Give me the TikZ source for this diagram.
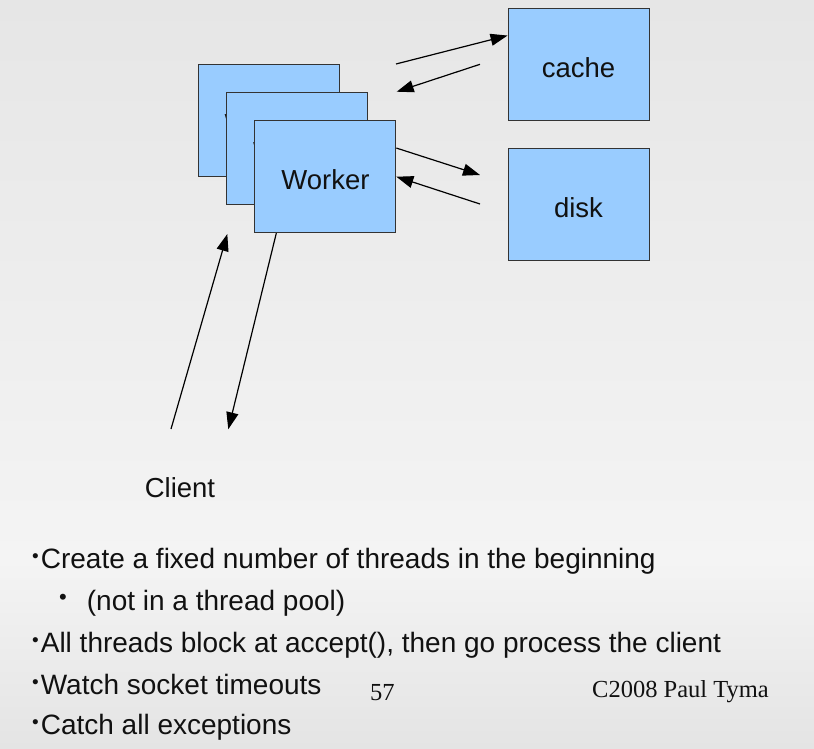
\documentclass[tikz,border=0pt]{standalone}
\usepackage{fontspec}
\setmainfont{Liberation Sans}
\newfontfamily\serifnote{Liberation Serif}
\usetikzlibrary{arrows.meta}
\definecolor{boxblue}{HTML}{99CCFF}
\definecolor{slidetop}{HTML}{E6E6E6}
\definecolor{slidemid}{HTML}{F4F4F4}
\definecolor{slidelow}{HTML}{E4E4E4}
\definecolor{inkgray}{HTML}{111111}
\newcommand{\dotmark}{\raisebox{5.4pt}{\fontsize{19}{19}\selectfont •}\hspace{2pt}}
\newcommand{\subdotmark}{\raisebox{5.3pt}{\fontsize{22}{22}\selectfont •}\hspace{20pt}}

\begin{document}
\begin{tikzpicture}[
    x=1pt, y=-1pt,
    box/.style={
        rectangle,
        draw=black!80,
        line width=0.9pt,
        fill=boxblue,
        minimum width=141pt,
        minimum height=112pt,
        inner sep=0pt,
        text height=26pt,
        text depth=0pt,
        text=inkgray,
        font=\fontsize{27.5}{30}\selectfont
    },
    arrow/.style={-{Triangle[length=17pt,width=12pt]}, line width=1.2pt, draw=black},
    bullet/.style={anchor=base west, inner sep=0pt, text=inkgray, font=\fontsize{28}{30}\selectfont},
    footer/.style={anchor=base west, inner sep=0pt, text=inkgray, font=\serifnote\fontsize{24.5}{26}\selectfont}
]

% slide background
\useasboundingbox (0,0) rectangle (814,748);
\fill[top color=slidetop, bottom color=slidemid] (0,0) rectangle (814,560);
\fill[top color=slidemid, bottom color=slidelow] (0,560) rectangle (814,748);

% stacked workers
\node[box] (w1) at (268.8,120.2) {Worker};
\node[box] (w2) at (297.2,148.3) {Worker};
\node[box] (w3) at (325.4,176.7) {Worker};

% backends
\node[box] (cache) at (578.5,64.2) {cache};
\node[box] (disk) at (578.5,204.8) {disk};

\node[inner sep=0pt, text=inkgray, font=\fontsize{27.5}{30}\selectfont] (client) at (180,488) {Client};

% free arrow ends
\coordinate (cacheout) at (396,64);
\coordinate (cachein) at (480,64.3);
\coordinate (cacheback) at (396.7,91.7);
\coordinate (diskout) at (480,175);
\coordinate (diskin) at (480,204);
\coordinate (clientup) at (171,429);
\coordinate (clienttip) at (227.3,234);
\coordinate (clientdown) at (228.3,429.3);

% Arrows
\draw[arrow] (cacheout) -- (cache.158);
\draw[arrow] (cachein) -- (cacheback);
\draw[arrow] (w3.22) -- (diskout);
\draw[arrow] (diskin) -- (w3.east);
\draw[arrow] (clientup) -- (clienttip);
\draw[arrow] (w3.229) -- (clientdown);

% bullet list
\node[bullet] (b1) at (32,568) {\dotmark Create a fixed number of threads in the beginning};
\node[bullet] (b2) at (59,610) {\subdotmark (not in a thread pool)};
\node[bullet] (b3) at (32,652) {\dotmark All threads block at accept(), then go process the client};
\node[bullet] (b4) at (32,694) {\dotmark Watch socket timeouts};
\node[bullet] (b5) at (32,734) {\dotmark Catch all exceptions};

% footer
\node[footer] (page) at (370,700) {57};
\node[footer] (credit) at (592,697) {C2008 Paul Tyma};

\end{tikzpicture}
\end{document}
